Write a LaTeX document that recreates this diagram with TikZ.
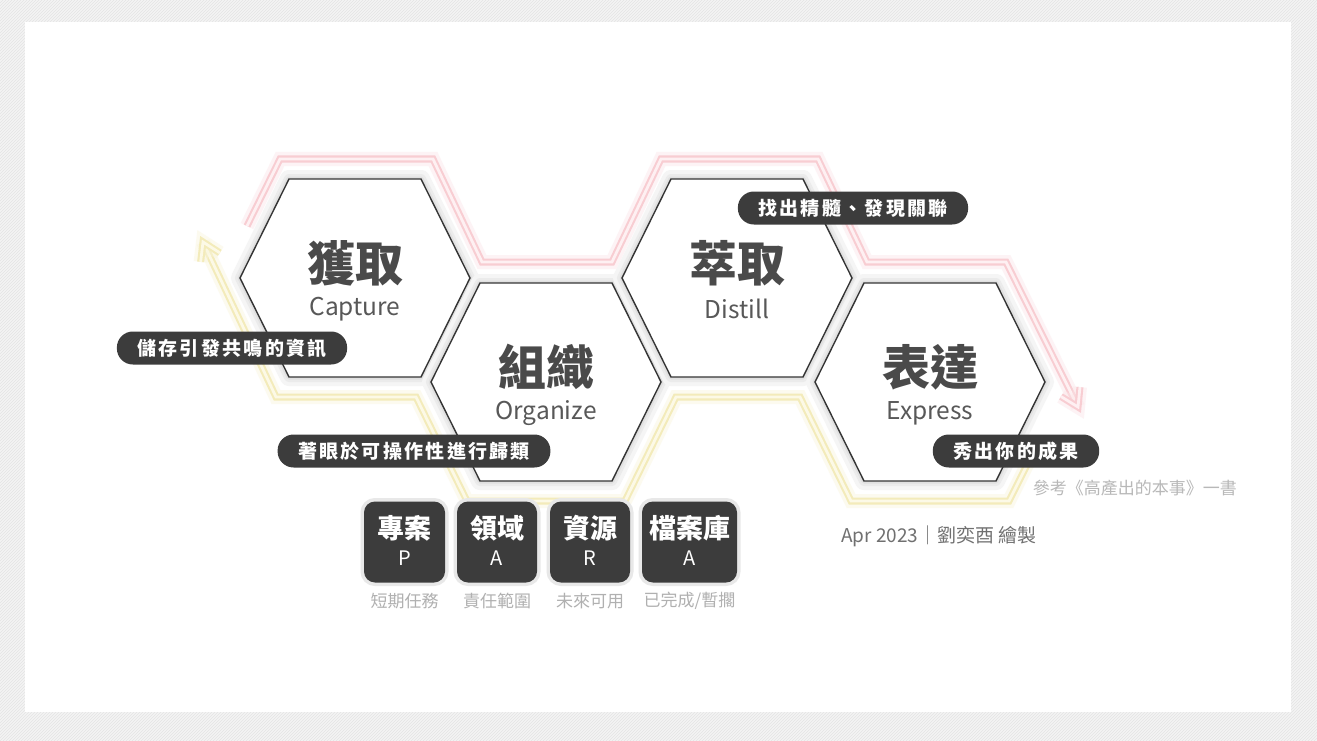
\documentclass[tikz,border=0pt]{standalone}
\usepackage{fontspec}
\setmainfont{Noto Sans CJK TC}
\newfontfamily\pillfont{Noto Sans CJK TC}[LetterSpace=12]
\usetikzlibrary{arrows.meta,calc,patterns}
\definecolor{ink}{HTML}{3C3C3C}
\definecolor{edge}{HTML}{353535}
\definecolor{title}{HTML}{4A4A4A}
\definecolor{sub}{HTML}{585858}
\definecolor{note}{HTML}{B0B0B0}
\definecolor{credit}{HTML}{707070}
\definecolor{glowpk}{HTML}{F8CDD2}
\definecolor{glowpklt}{HTML}{FEF0F2}
\definecolor{glowyl}{HTML}{F3EBBA}
\definecolor{glowyllt}{HTML}{FCF9E6}
\definecolor{paper}{HTML}{F4F4F4}
\definecolor{hatch}{HTML}{E4E4E4}
\newcommand{\HW}{115}
\newcommand{\HT}{66}
\newcommand{\HH}{99}
\newcommand{\hexpath}{(-\HW,0) -- (-\HT,-\HH) -- (\HT,-\HH) -- (\HW,0) -- (\HT,\HH) -- (-\HT,\HH) -- cycle}
% soft shadow of one cell, drawn before any cell
\newcommand{\hexshade}[2]{%
  \begin{scope}[shift={(#1,#2)}]
    \draw[black!4,line width=18pt,line join=round] \hexpath;
    \draw[black!8,line width=10pt,line join=round] \hexpath;
    \draw[black!12,line width=5pt,line join=round] \hexpath;
  \end{scope}}
\newcommand{\hexcell}[5]{%
  \begin{scope}[shift={(#2,#3)}]
    \fill[white] \hexpath;
    \draw[edge,line width=1.4pt] \hexpath;
    \node[hextitle] (#1) at (0,-15) {#4};
    \node[hexsub] (#1-sub) at (0,31) {#5};
  \end{scope}}
\newcommand{\glow}[3]{%
  \draw[#1!50,line width=14pt,line join=miter,opacity=.45] #3;
  \draw[#1,line width=7pt,line join=miter] #3;
  \draw[#2,line width=2.8pt,line join=miter] #3;}
\newcommand{\parabox}[6]{%
  \node[boxshade,minimum width=#3] at (#2,542) {};
  \node[parabox,minimum width=#3] (#1) at (#2,542) {};
  \node[boxtitle] (#1-t) at (#2,528) {#4};
  \node[boxletter] (#1-l) at (#2,558) {#5};
  \node[boxnote] (#1-n) at (#2,601) {#6};}

\begin{document}
\begin{tikzpicture}[x=1pt,y=-1pt,
  hextitle/.style={font=\bfseries\fontsize{48}{50}\selectfont,text=title,inner sep=0pt},
  hexsub/.style={font=\fontsize{24.5}{28}\selectfont,text=sub,inner sep=0pt},
  pill/.style={fill=ink,text=white,font=\pillfont\bfseries\fontsize{19}{20}\selectfont,
    rounded corners=16pt,minimum height=33pt,inner xsep=20.5pt,inner ysep=0pt},
  parabox/.style={fill=ink,rounded corners=11pt,minimum height=81pt,inner sep=0pt},
  boxshade/.style={draw=black!9,line width=7pt,rounded corners=11pt,minimum height=81pt,inner sep=0pt},
  boxtitle/.style={font=\bfseries\fontsize{27}{28}\selectfont,text=white,inner sep=0pt},
  boxletter/.style={font=\fontsize{20}{22}\selectfont,text=white,inner sep=0pt},
  boxnote/.style={font=\fontsize{17}{18}\selectfont,text=note,inner sep=0pt}]

\useasboundingbox (0,0) rectangle (1317,741);

% ---------------- backdrop ---------------------------------------------------
\fill[paper] (0,0) rectangle (1317,741);
\fill[pattern=north east lines,pattern color=hatch] (0,0) rectangle (1317,741);
\fill[white] (25,22) rectangle (1291,712);

% ---------------- glow paths -------------------------------------------------
\coordinate (pk-bend) at (1006,262);
\coordinate (pk-tip) at (1078,407);
\glow{glowpk}{glowpklt}{(247,226) -- (280,159) -- (433,159) -- (482,262) -- (612,262)
  -- (661,159) -- (818,159) -- (867,262) -- (pk-bend) -- (pk-tip)}
\glow{glowpk}{glowpklt}{($(pk-tip)!20pt!32:(pk-bend)$) -- (pk-tip) -- ($(pk-tip)!20pt!-32:(pk-bend)$)}

\coordinate (yl-bend) at (276,397);
\coordinate (yl-tip) at (203,242);
\glow{glowyl}{glowyllt}{(1031,457) -- (1009,501) -- (851,501) -- (800,397) -- (676,397)
  -- (625,501) -- (467,501) -- (416,397) -- (yl-bend) -- (yl-tip)}
\glow{glowyl}{glowyllt}{($(yl-tip)!20pt!32:(yl-bend)$) -- (yl-tip) -- ($(yl-tip)!20pt!-32:(yl-bend)$)}

% ---------------- cells ------------------------------------------------------
\foreach \x/\y in {355/278,546/382,737/278,930/382}
  {\hexshade{\x}{\y}}
\hexcell{capture}{355}{278}{獲取}{Capture}
\hexcell{organize}{546}{382}{組織}{Organize}
\hexcell{distill}{737}{278}{萃取}{Distill}
\hexcell{express}{930}{382}{表達}{Express}

% ---------------- notes ------------------------------------------------------
\node[pill] (p-capture) at (232,348) {儲存引發共鳴的資訊};
\node[pill] (p-organize) at (414,451) {著眼於可操作性進行歸類};
\node[pill] (p-distill) at (853,208) {找出精髓、發現關聯};
\node[pill] (p-express) at (1016,451) {秀出你的成果};

% ---------------- PARA -------------------------------------------------------
\parabox{para-p}{404.5}{81pt}{專案}{P}{短期任務}
\parabox{para-a}{497}{80pt}{領域}{A}{責任範圍}
\parabox{para-r}{590}{80pt}{資源}{R}{未來可用}
\parabox{para-ar}{689.5}{95pt}{檔案庫}{A}{已完成/暫擱}

% ---------------- credits ----------------------------------------------------
\node[font=\fontsize{17}{18}\selectfont,text=note!90,anchor=east,inner sep=0pt] (source) at (1237,488) {參考《高產出的本事》一書};
\node[font=\fontsize{19}{20}\selectfont,text=credit,anchor=west,inner sep=0pt] (date) at (841,536) {Apr 2023｜劉奕酉 繪製};

\end{tikzpicture}
\end{document}
